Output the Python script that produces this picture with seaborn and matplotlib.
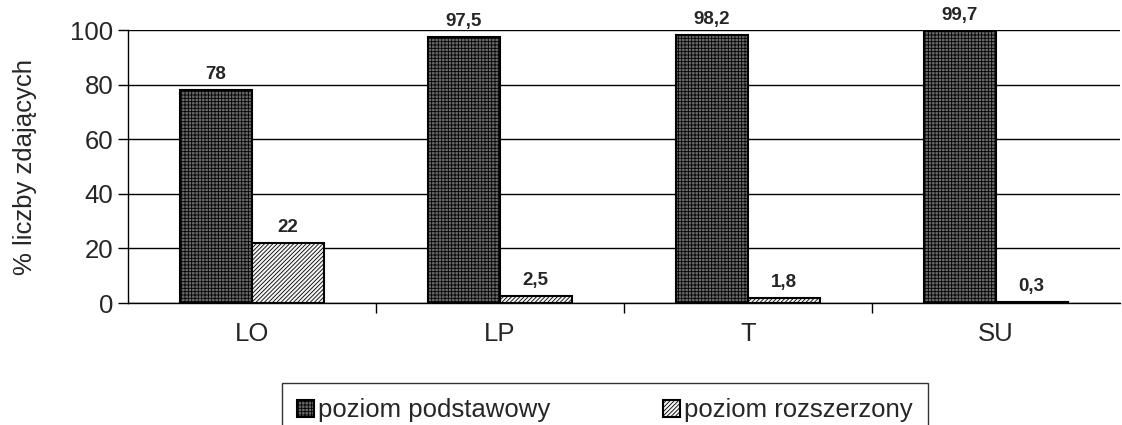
import pandas as pd
import matplotlib.pyplot as plt
import seaborn as sns

# Data
categories = ["LO", "LP", "T", "SU"]
podstawowy = [78, 97.5, 98.2, 99.7]
rozszerzony = [22, 2.5, 1.8, 0.3]
levels = ["poziom podstawowy", "poziom rozszerzony"]

df = pd.DataFrame({
    "typ": categories * 2,
    "poziom": [levels[0]] * 4 + [levels[1]] * 4,
    "procent": podstawowy + rozszerzony,
})

sns.set_style("white")
plt.rcParams["font.family"] = ["Liberation Sans", "DejaVu Sans"]
plt.rcParams["hatch.linewidth"] = 0.6

fig = plt.figure(figsize=(11.22, 4.25), dpi=100)
ax = fig.add_axes([0.114, 0.287, 0.884, 0.642])

sns.barplot(data=df, x="typ", y="procent", hue="poziom", order=categories,
            hue_order=levels, palette=["#6a6a6a", "#f4f4f4"], width=0.58,
            edgecolor="black", linewidth=1.5, saturation=1, ax=ax, legend=True)

hatches = {levels[0]: "+++++", levels[1]: "////////"}
for cont, lvl in zip(ax.containers, levels):
    for bar in cont:
        bar.set_hatch(hatches[lvl])
    ax.bar_label(cont, labels=[f"{v:g}".replace(".", ",") for v in cont.datavalues],
                 padding=5, fontsize=13.5, fontweight="bold")

ax.set_ylim(0, 100)
ax.set_xlim(-0.5, 3.5)
ax.set_yticks([0, 20, 40, 60, 80, 100])
ax.yaxis.grid(True, color="black", linewidth=1)
ax.set_axisbelow(True)
ax.tick_params(axis="y", labelsize=18.5, length=7, width=1, color="black", left=True)
ax.tick_params(axis="x", which="major", labelsize=18.5, length=0, pad=14)
ax.set_xticks([0.5, 1.5, 2.5], minor=True)
ax.tick_params(axis="x", which="minor", length=7, width=1, color="black", bottom=True)
ax.set_xlabel("")
ax.set_ylabel("% liczby zdających", fontsize=18.5, labelpad=24)

for s in ["top", "right"]:
    ax.spines[s].set_visible(False)
for s in ["left", "bottom"]:
    ax.spines[s].set_color("black")
    ax.spines[s].set_linewidth(1)

handles, labs = ax.get_legend_handles_labels()
ax.legend_.remove()
leg = fig.legend(handles, labs, loc="center", bbox_to_anchor=(0.539, 0.035), ncol=2,
                 fontsize=18.5, frameon=True, fancybox=False, edgecolor="black",
                 handlelength=0.65, handleheight=0.65, handletextpad=0.15,
                 columnspacing=4.4, borderpad=0.6, borderaxespad=0)
leg.get_frame().set_linewidth(1)
for h, lvl in zip(leg.legend_handles, levels):
    h.set_hatch(hatches[lvl])

fig.savefig("out.png", dpi=100)
